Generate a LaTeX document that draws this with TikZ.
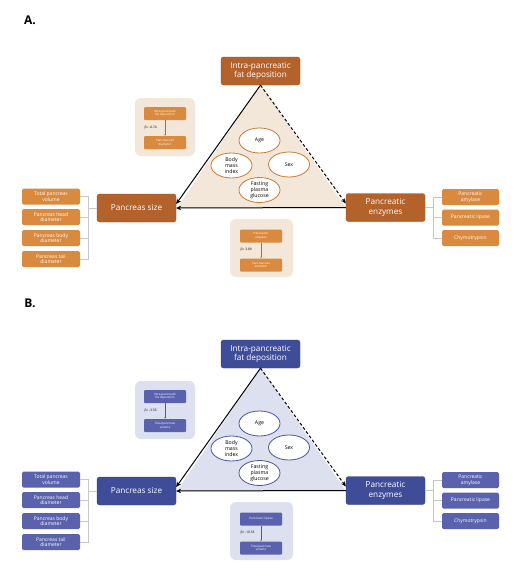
\documentclass[tikz,border=0pt]{standalone}
\usepackage{fontspec}
\setmainfont{Open Sans}
\usetikzlibrary{arrows.meta,shapes.geometric}
\definecolor{Adark}{HTML}{B4622B}
\definecolor{Alight}{HTML}{D98A3E}
\definecolor{Asoft}{HTML}{F3E7D9}
\definecolor{Aell}{HTML}{C97A32}
\definecolor{Bdark}{HTML}{3F4D99}
\definecolor{Blight}{HTML}{5A62AE}
\definecolor{Bsoft}{HTML}{DDE0EF}
\definecolor{Bell}{HTML}{4A559F}
\tikzset{
  darkbox/.style={fill=#1dark, draw=#1dark!80!black, line width=0.3pt, rounded corners=2.5pt, text=white,
    minimum width=79pt, minimum height=28pt, inner sep=0pt, align=center,
    font=\fontsize{8.2}{9.8}\selectfont},
  lightbox/.style={fill=#1light, rounded corners=1.5pt, text=white,
    minimum width=58pt, minimum height=16pt, inner sep=0pt, align=center,
    font=\fontsize{5}{5.6}\selectfont},
  ellbox/.style={ellipse, draw=#1ell, fill=white, line width=0.8pt,
    minimum width=41pt, minimum height=25pt, inner sep=0pt, align=center,
    font=\fontsize{5.2}{5.8}\selectfont},
  insetbg/.style={fill=#1soft, rounded corners=6pt, minimum width=60pt, minimum height=58pt, inner sep=0pt},
  tinybox/.style={fill=#1light, rounded corners=1pt, text=white,
    minimum width=42pt, minimum height=13pt, inner sep=0pt, align=center,
    font=\fontsize{3}{3.5}\selectfont},
  tinyarrow/.style={draw=#1dark!70!gray, line width=0.35pt, -{Stealth[length=1.6pt,width=1.4pt]}},
  betalbl/.style={font=\fontsize{3.2}{3.5}\selectfont, anchor=west, inner sep=0pt},
  bracket/.style={draw=black!22, line width=0.6pt},
  mainarrow/.style={draw=black, line width=1pt, -{Stealth[length=5pt,width=4.5pt]}},
  dasharrow/.style={mainarrow, dash pattern=on 3pt off 2.2pt},
}
\newcommand\drawpanel[8]{%
\begin{scope}[shift={(0,#2)}]
  \node[font=\bfseries\fontsize{12}{12}\selectfont, inner sep=0pt] (#1lbl) at (30,20) {#1.};
  \fill[#1soft] (260.5,85) -- (177,208) -- (346,208) -- cycle;
  \node[darkbox=#1] (#1top) at (260.5,71) {Intra-pancreatic\\fat deposition};
  \node[darkbox=#1] (#1size) at (136.5,208) {Pancreas size};
  \node[darkbox=#1] (#1enz) at (385.5,207.5) {Pancreatic\\enzymes};
  % ellipses
  \node[ellbox=#1] (#1age) at (259.5,140.5) {Age};
  \node[ellbox=#1] (#1bmi) at (231.5,165.5) {Body\\mass\\index};
  \node[ellbox=#1] (#1sex) at (289,164.5) {Sex};
  \node[ellbox=#1] (#1fpg) at (259.5,190) {Fasting\\plasma\\glucose};
  % main arrows
  \draw[mainarrow] (#1top.south) -- ([yshift=4pt]#1size.east);
  \draw[mainarrow] (#1enz.west) -- (#1size.east);
  \draw[dasharrow] (#1top.south) -- ([yshift=4pt]#1enz.west);
  % left list
  \node[lightbox=#1] (#1la) at (51,196.5) {Total pancreas\\volume};
  \node[lightbox=#1] (#1lb) at (51,217) {Pancreas head\\diameter};
  \node[lightbox=#1] (#1lc) at (51,238) {Pancreas body\\diameter};
  \node[lightbox=#1] (#1ld) at (51,259) {Pancreas tail\\diameter};
  \coordinate (#1lk) at (88,208);
  \draw[bracket] (#1la.east) -- (#1la.east -| #1lk) -- (#1ld.east -| #1lk) -- (#1ld.east);
  \draw[bracket] (#1lb.east) -- (#1lb.east -| #1lk);
  \draw[bracket] (#1lc.east) -- (#1lc.east -| #1lk);
  \draw[bracket] (#1lk) -- (#1size.west);
  % right list
  \node[lightbox=#1, minimum width=57pt] (#1ra) at (470.5,197) {Pancreatic\\amylase};
  \node[lightbox=#1, minimum width=57pt] (#1rb) at (470.5,217.5) {Pancreatic lipase};
  \node[lightbox=#1, minimum width=57pt] (#1rc) at (470.5,238) {Chymotrypsin};
  \coordinate (#1rk) at (433,207.5);
  \draw[bracket] (#1ra.west) -- (#1ra.west -| #1rk) -- (#1rc.west -| #1rk) -- (#1rc.west);
  \draw[bracket] (#1rb.west) -- (#1rb.west -| #1rk);
  \draw[bracket] (#1enz.east) -- (#1rk);
  % inset 1
  \node[insetbg=#1] (#1ina) at (165,127) {};
  \node[tinybox=#1] (#1ina1) at (165,113.5) {#3};
  \node[tinybox=#1] (#1ina2) at (165,142.5) {#4};
  \draw[tinyarrow=#1] (#1ina1) -- (#1ina2);
  \node[betalbl] (#1inab) at (144.5,127.5) {#5};
  % inset 2
  \node[insetbg=#1, minimum width=63pt] (#1inb) at (261.5,248) {};
  \node[tinybox=#1] (#1inb1) at (261,236) {#6};
  \node[tinybox=#1] (#1inb2) at (261,265) {#7};
  \draw[tinyarrow=#1] (#1inb1) -- (#1inb2);
  \node[betalbl] (#1inbb) at (240.5,250) {#8};
\end{scope}}
\begin{document}
\begin{tikzpicture}[x=1pt,y=-1pt]
  \useasboundingbox[fill=white] (0,0) rectangle (520,574);
  \drawpanel{A}{0}{Intra-pancreatic\\fat deposition}{Pancreas tail\\diameter}{β= -0.74}{Pancreatic\\amylase}{Pancreas tail\\diameter}{β= 3.89}
  \drawpanel{B}{283}{Intra-pancreatic\\fat deposition}{Total pancreas\\volume}{β= -3.56}{Pancreatic lipase}{Total pancreas\\volume}{β= -10.53}
\end{tikzpicture}
\end{document}
